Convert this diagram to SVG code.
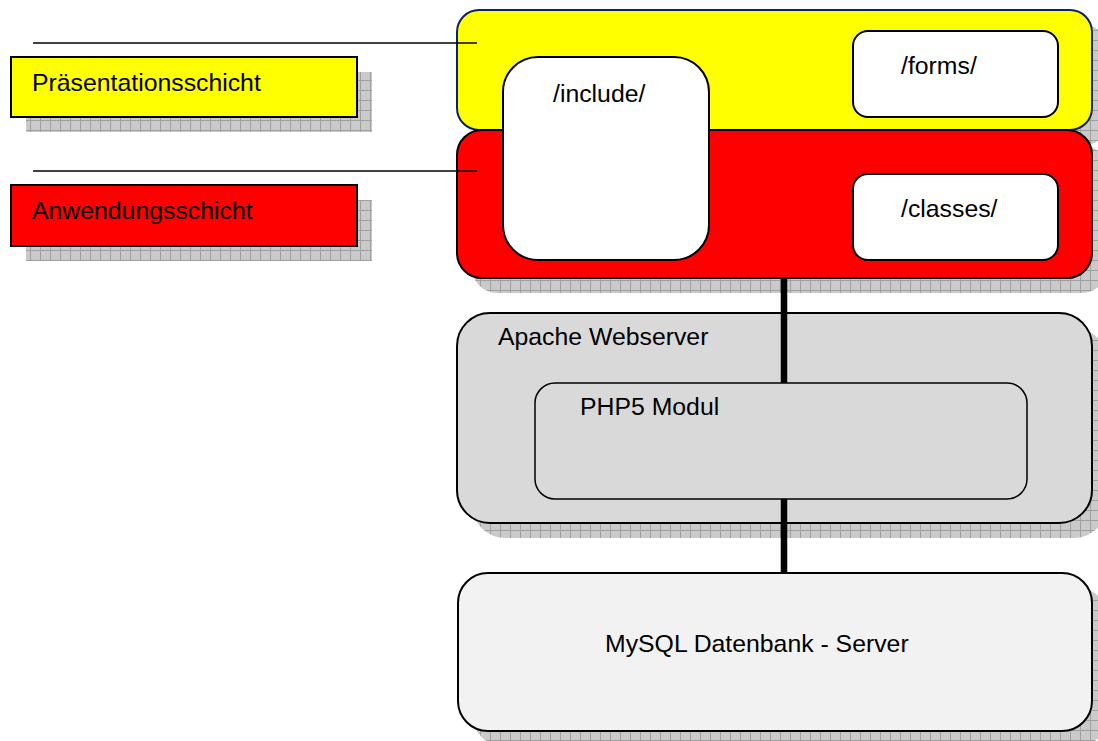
<svg xmlns="http://www.w3.org/2000/svg" width="1098" height="741" viewBox="0 0 1098 741">
<defs>
<pattern id="grid" width="10" height="10" patternUnits="userSpaceOnUse">
<rect width="10" height="10" fill="#cacaca"/>
<path d="M0.5 0V10M0 0.5H10" stroke="#a0a0a0" stroke-width="1" fill="none"/>
</pattern>
</defs>
<style>
.t{font-family:"Liberation Sans",Arial,sans-serif;font-size:24.8px;fill:#000}
.sh{fill:url(#grid)}
.bx{stroke:#000;stroke-width:2}
.ln{stroke:#000;stroke-width:1.5;fill:none}
.conn{stroke:#000;stroke-width:6.5;fill:none}
</style>
<rect width="1098" height="741" fill="#fff"/>

<g id="label-praesentation">
<rect class="sh" x="26" y="72" width="346" height="60"/>
<rect class="bx" x="11" y="57" width="346" height="60" fill="#ffff00"/>
<text class="t" x="32" y="91">Präsentationsschicht</text>
</g>
<g id="label-anwendung">
<rect class="sh" x="26" y="200" width="346" height="61"/>
<rect class="bx" x="11" y="185" width="346" height="61" fill="#ff0000"/>
<text class="t" x="32" y="219">Anwendungsschicht</text>
</g>

<g id="praesentationsschicht">
<rect class="sh" x="472" y="25" width="635" height="120" rx="22"/>
<rect x="457" y="10" width="635" height="120" rx="22" fill="#ffff00" stroke="#0b2266" stroke-width="2"/>
</g>
<g id="anwendungsschicht">
<rect class="sh" x="472" y="145" width="635" height="148" rx="25"/>
<rect class="bx" x="457" y="130" width="635" height="148" rx="25" fill="#ff0000"/>
</g>
<g id="forms">
<rect class="bx" x="853" y="31" width="205" height="86" rx="15" fill="#fff"/>
<text class="t" x="901" y="74">/forms/</text>
</g>
<g id="classes">
<rect class="bx" x="853" y="174" width="205" height="86" rx="15" fill="#fff"/>
<text class="t" x="901" y="217">/classes/</text>
</g>
<g id="include">
<rect class="bx" x="503" y="57" width="206" height="203" rx="35" fill="#fff"/>
<text class="t" x="553" y="102">/include/</text>
</g>

<g id="apache">
<rect class="sh" x="472" y="328" width="635" height="210" rx="33"/>
<rect class="bx" x="457" y="313" width="635" height="210" rx="33" fill="#d9d9d9"/>
<text class="t" x="498" y="345">Apache Webserver</text>
</g>
<g id="php5">
<rect x="535" y="383" width="492" height="116" rx="20" fill="#d9d9d9" stroke="#000" stroke-width="1.5"/>
<text class="t" x="580" y="415">PHP5 Modul</text>
</g>
<g id="mysql">
<rect class="sh" x="473" y="588" width="635" height="158" rx="30"/>
<rect class="bx" x="458" y="573" width="634" height="158" rx="30" fill="#f2f2f2"/>
<text class="t" x="605" y="652">MySQL Datenbank - Server</text>
</g>

<g id="connectors">
<line class="ln" x1="33" y1="43" x2="477" y2="43"/>
<line class="ln" x1="33" y1="171" x2="477" y2="171"/>
<line class="conn" x1="784" y1="278" x2="784" y2="383"/>
<line class="conn" x1="784" y1="499" x2="784" y2="573"/>
</g>
</svg>
